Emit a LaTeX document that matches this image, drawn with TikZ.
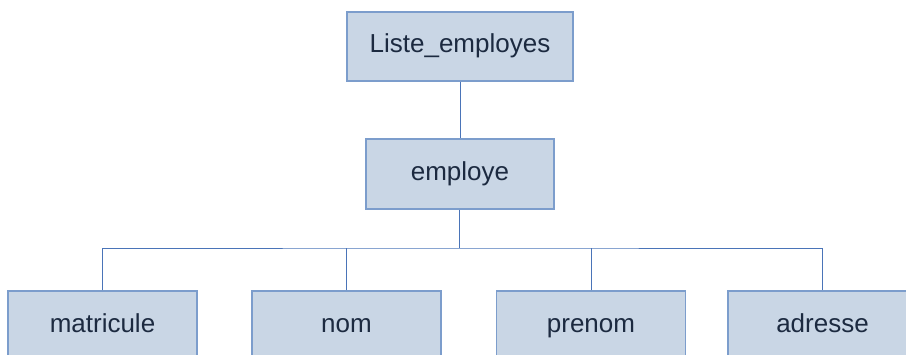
\documentclass[tikz,border=0pt]{standalone}
\usepackage{fontspec}
\setmainfont{Liberation Sans}
\definecolor{boxfill}{HTML}{C9D6E5}
\definecolor{boxline}{HTML}{7C9DCC}
\definecolor{wire}{HTML}{4A74B8}
\definecolor{ink}{HTML}{1C2A40}
\tikzset{
  tbox/.style={draw=boxline, fill=boxfill, line width=1.2pt, text=ink,
    font=\fontsize{26}{31}\selectfont, inner sep=0pt, minimum height=70pt,
    text height=19pt, text depth=6pt},
  wireline/.style={draw=wire, line width=0.9pt}
}
\begin{document}
\begin{tikzpicture}[x=1pt,y=1pt]
\useasboundingbox (0,0) rectangle (906,354);
\clip (0,0) rectangle (906,354);
\node[tbox, minimum width=226pt, minimum height=69pt] (liste) at (460,307.5) {Liste\_employes};
\node[tbox, minimum width=188pt] (emp) at (460,180) {employe};
\coordinate (bus) at (459,106);

\foreach \x/\name/\txt in {102.5/mat/matricule, 346.5/nom/nom, 591/pre/prenom, 822.5/adr/adresse}
   \node[tbox, minimum width=189pt] (\name) at (\x,28) {\txt};

\draw[wireline] (liste.south) -- (emp.north);
\draw[wireline] (emp.south -| bus) -- (bus);
\draw[wireline] (mat.north) |- (bus) -| (adr.north);
\foreach \name in {nom, pre}
   \draw[wireline] (\name.north) -- (\name.north |- bus);
\end{tikzpicture}
\end{document}
